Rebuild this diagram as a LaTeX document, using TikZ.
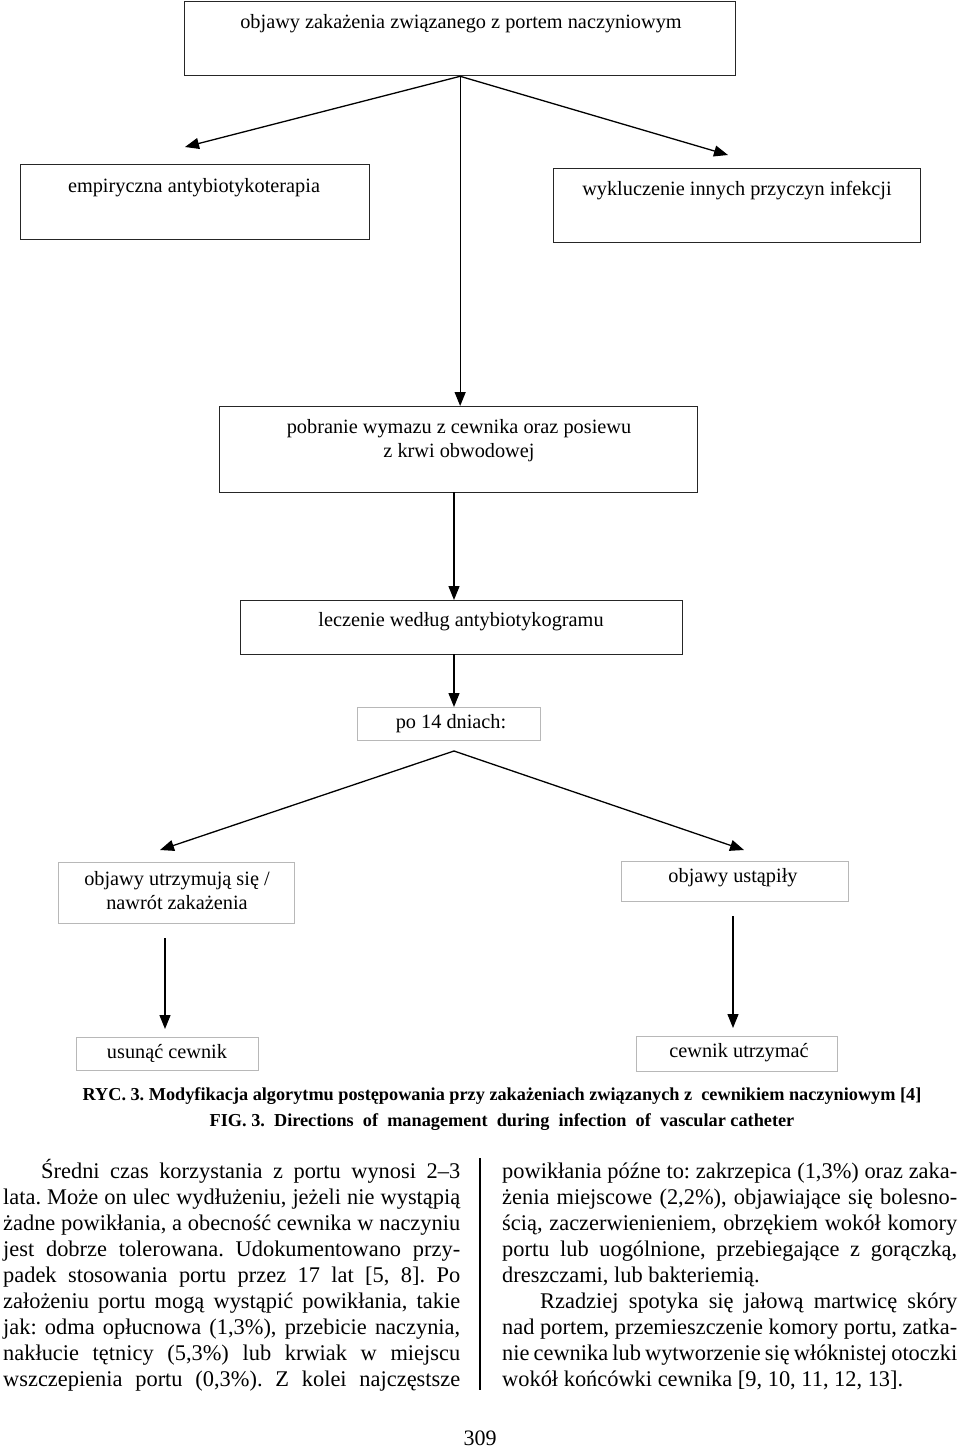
\documentclass[tikz,border=0pt]{standalone}
\usepackage{fontspec}
\setmainfont{Liberation Serif}
\usetikzlibrary{arrows.meta,calc}
\frenchspacing
\newcommand\jline[1]{\hbox to 457pt{#1}}
\newcommand\rline[1]{\hbox to 455pt{#1}}
\begin{document}
\begin{tikzpicture}[x=1pt,y=-1pt,
  box/.style={draw=black!85, line width=1.3pt, inner sep=0pt, anchor=north west},
  gbox/.style={draw=black!28, line width=1.3pt, inner sep=0pt, anchor=north west},
  lbl/.style={inner sep=0pt, font=\fontsize{20.3}{24}\selectfont, align=center},
  captxt/.style={inner sep=0pt, font=\fontsize{18.25}{22}\selectfont\bfseries},
  bodytxt/.style={inner sep=0pt, anchor=base west, font=\fontsize{22.4}{26}\selectfont},
  arr/.style={line width=1.3pt, -{Triangle[length=14pt,width=11pt]}},
]
\useasboundingbox (0,0) rectangle (960,1448);
\fill[white] (0,0) rectangle (960,1448);

% boxes
\node[box,  minimum width=551pt, minimum height=74pt] (top) at (184,1) {};
\node[box,  minimum width=349pt, minimum height=75pt] (emp) at (20,164) {};
\node[box,  minimum width=367pt, minimum height=74pt] (wyk) at (553,168) {};
\node[box,  minimum width=478pt, minimum height=86pt] (pob) at (219,406) {};
\node[box,  minimum width=442pt, minimum height=54pt] (lec) at (240,600) {};
\node[gbox, minimum width=183pt, minimum height=33pt] (po) at (357,707) {};
\node[gbox, minimum width=236pt, minimum height=61pt] (utr) at (58,862) {};
\node[gbox, minimum width=227pt, minimum height=40pt] (ust) at (621,861) {};
\node[gbox, minimum width=182pt, minimum height=33pt] (usu) at (76,1037) {};
\node[gbox, minimum width=201pt, minimum height=35pt] (cew) at (636,1036) {};

% labels
\node[lbl] (ttop) at (461,24) {objawy zakażenia związanego z portem naczyniowym};
\node[lbl] (temp) at (194,188) {empiryczna antybiotykoterapia};
\node[lbl] (twyk) at (737,191) {wykluczenie innych przyczyn infekcji};
\node[lbl] (tpob) at (459,441) {pobranie wymazu z cewnika oraz posiewu\\z krwi obwodowej};
\node[lbl] (tlec) at (461,622) {leczenie według antybiotykogramu};
\node[lbl] (tpo) at (451,724) {po 14 dniach:};
\node[lbl] (tutr) at (177,891) {objawy utrzymują się /\\nawrót zakażenia};
\node[lbl] (tust) at (733,878) {objawy ustąpiły};
\node[lbl] (tusu) at (167,1053) {usunąć cewnik};
\node[lbl] (tcew) at (739,1053) {cewnik utrzymać};

% connectors
\coordinate (aL) at (185,147);
\coordinate (aR) at (728,155);
\draw[arr] (top.south) -- (aL);
\draw[arr] (top.south) -- (aR);
\draw[arr] (top.south) -- (top.south |- pob.north);
\coordinate (s2) at (454,492);
\draw[arr] (s2) -- (s2 |- lec.north);
\coordinate (s3) at (454,654);
\draw[arr] (s3) -- (s3 |- po.north);
\coordinate (apex) at (454,751);
\coordinate (cL) at (160,850);
\coordinate (cR) at (744,850);
\draw[arr] (apex) -- (cL);
\draw[arr] (apex) -- (cR);
\coordinate (s5) at (165,938);
\coordinate (e5) at (165,1029);
\draw[arr] (s5) -- (e5);
\coordinate (s6) at (733,916);
\coordinate (e6) at (733,1028);
\draw[arr] (s6) -- (e6);

% captions
\node[captxt] (cap1) at (502,1096) {RYC. 3. Modyfikacja algorytmu postępowania przy zakażeniach związanych z\ \ cewnikiem naczyniowym [4]};
\node[captxt] (cap2) at (502,1122) {FIG. 3.\ \ Directions\ \ of\ \ management\ \ during\ \ infection\ \ of\ \ vascular catheter};

% body text
\node[bodytxt] (colL) at (3,1178) {\vtop{\baselineskip=26pt
\jline{\hspace*{38pt}Średni czas korzystania z portu wynosi 2–3}
\jline{lata. Może on ulec wydłużeniu, jeżeli nie wystąpią}
\jline{żadne powikłania, a obecność cewnika w naczyniu}
\jline{jest dobrze tolerowana. Udokumentowano przy-}
\jline{padek stosowania portu przez 17 lat [5, 8]. Po}
\jline{założeniu portu mogą wystąpić powikłania, takie}
\jline{jak: odma opłucnowa (1,3\%), przebicie naczynia,}
\jline{nakłucie tętnicy (5,3\%) lub krwiak w miejscu}
\jline{wszczepienia portu (0,3\%). Z kolei najczęstsze}}};

\node[bodytxt] (colR) at (502,1178) {\vtop{\baselineskip=26pt
\rline{powikłania późne to: zakrzepica (1,3\%) oraz zaka-}
\rline{żenia miejscowe (2,2\%), objawiające się bolesno-}
\rline{ścią, zaczerwienieniem, obrzękiem wokół komory}
\rline{portu lub uogólnione, przebiegające z gorączką,}
\hbox{dreszczami, lub bakteriemią.}
\rline{\hspace*{38pt}Rzadziej spotyka się jałową martwicę skóry}
\rline{nad portem, przemieszczenie komory portu, zatka-}
\rline{nie cewnika lub wytworzenie się włóknistej otoczki}
\hbox{wokół końcówki cewnika [9, 10, 11, 12, 13].}}};

\coordinate (d1) at (480,1158);
\coordinate (d2) at (480,1390);
\draw[line width=1.3pt] (d1) -- (d2);

\node[inner sep=0pt, font=\fontsize{22}{26}\selectfont] (pg) at (480,1438) {309};
\end{tikzpicture}
\end{document}
